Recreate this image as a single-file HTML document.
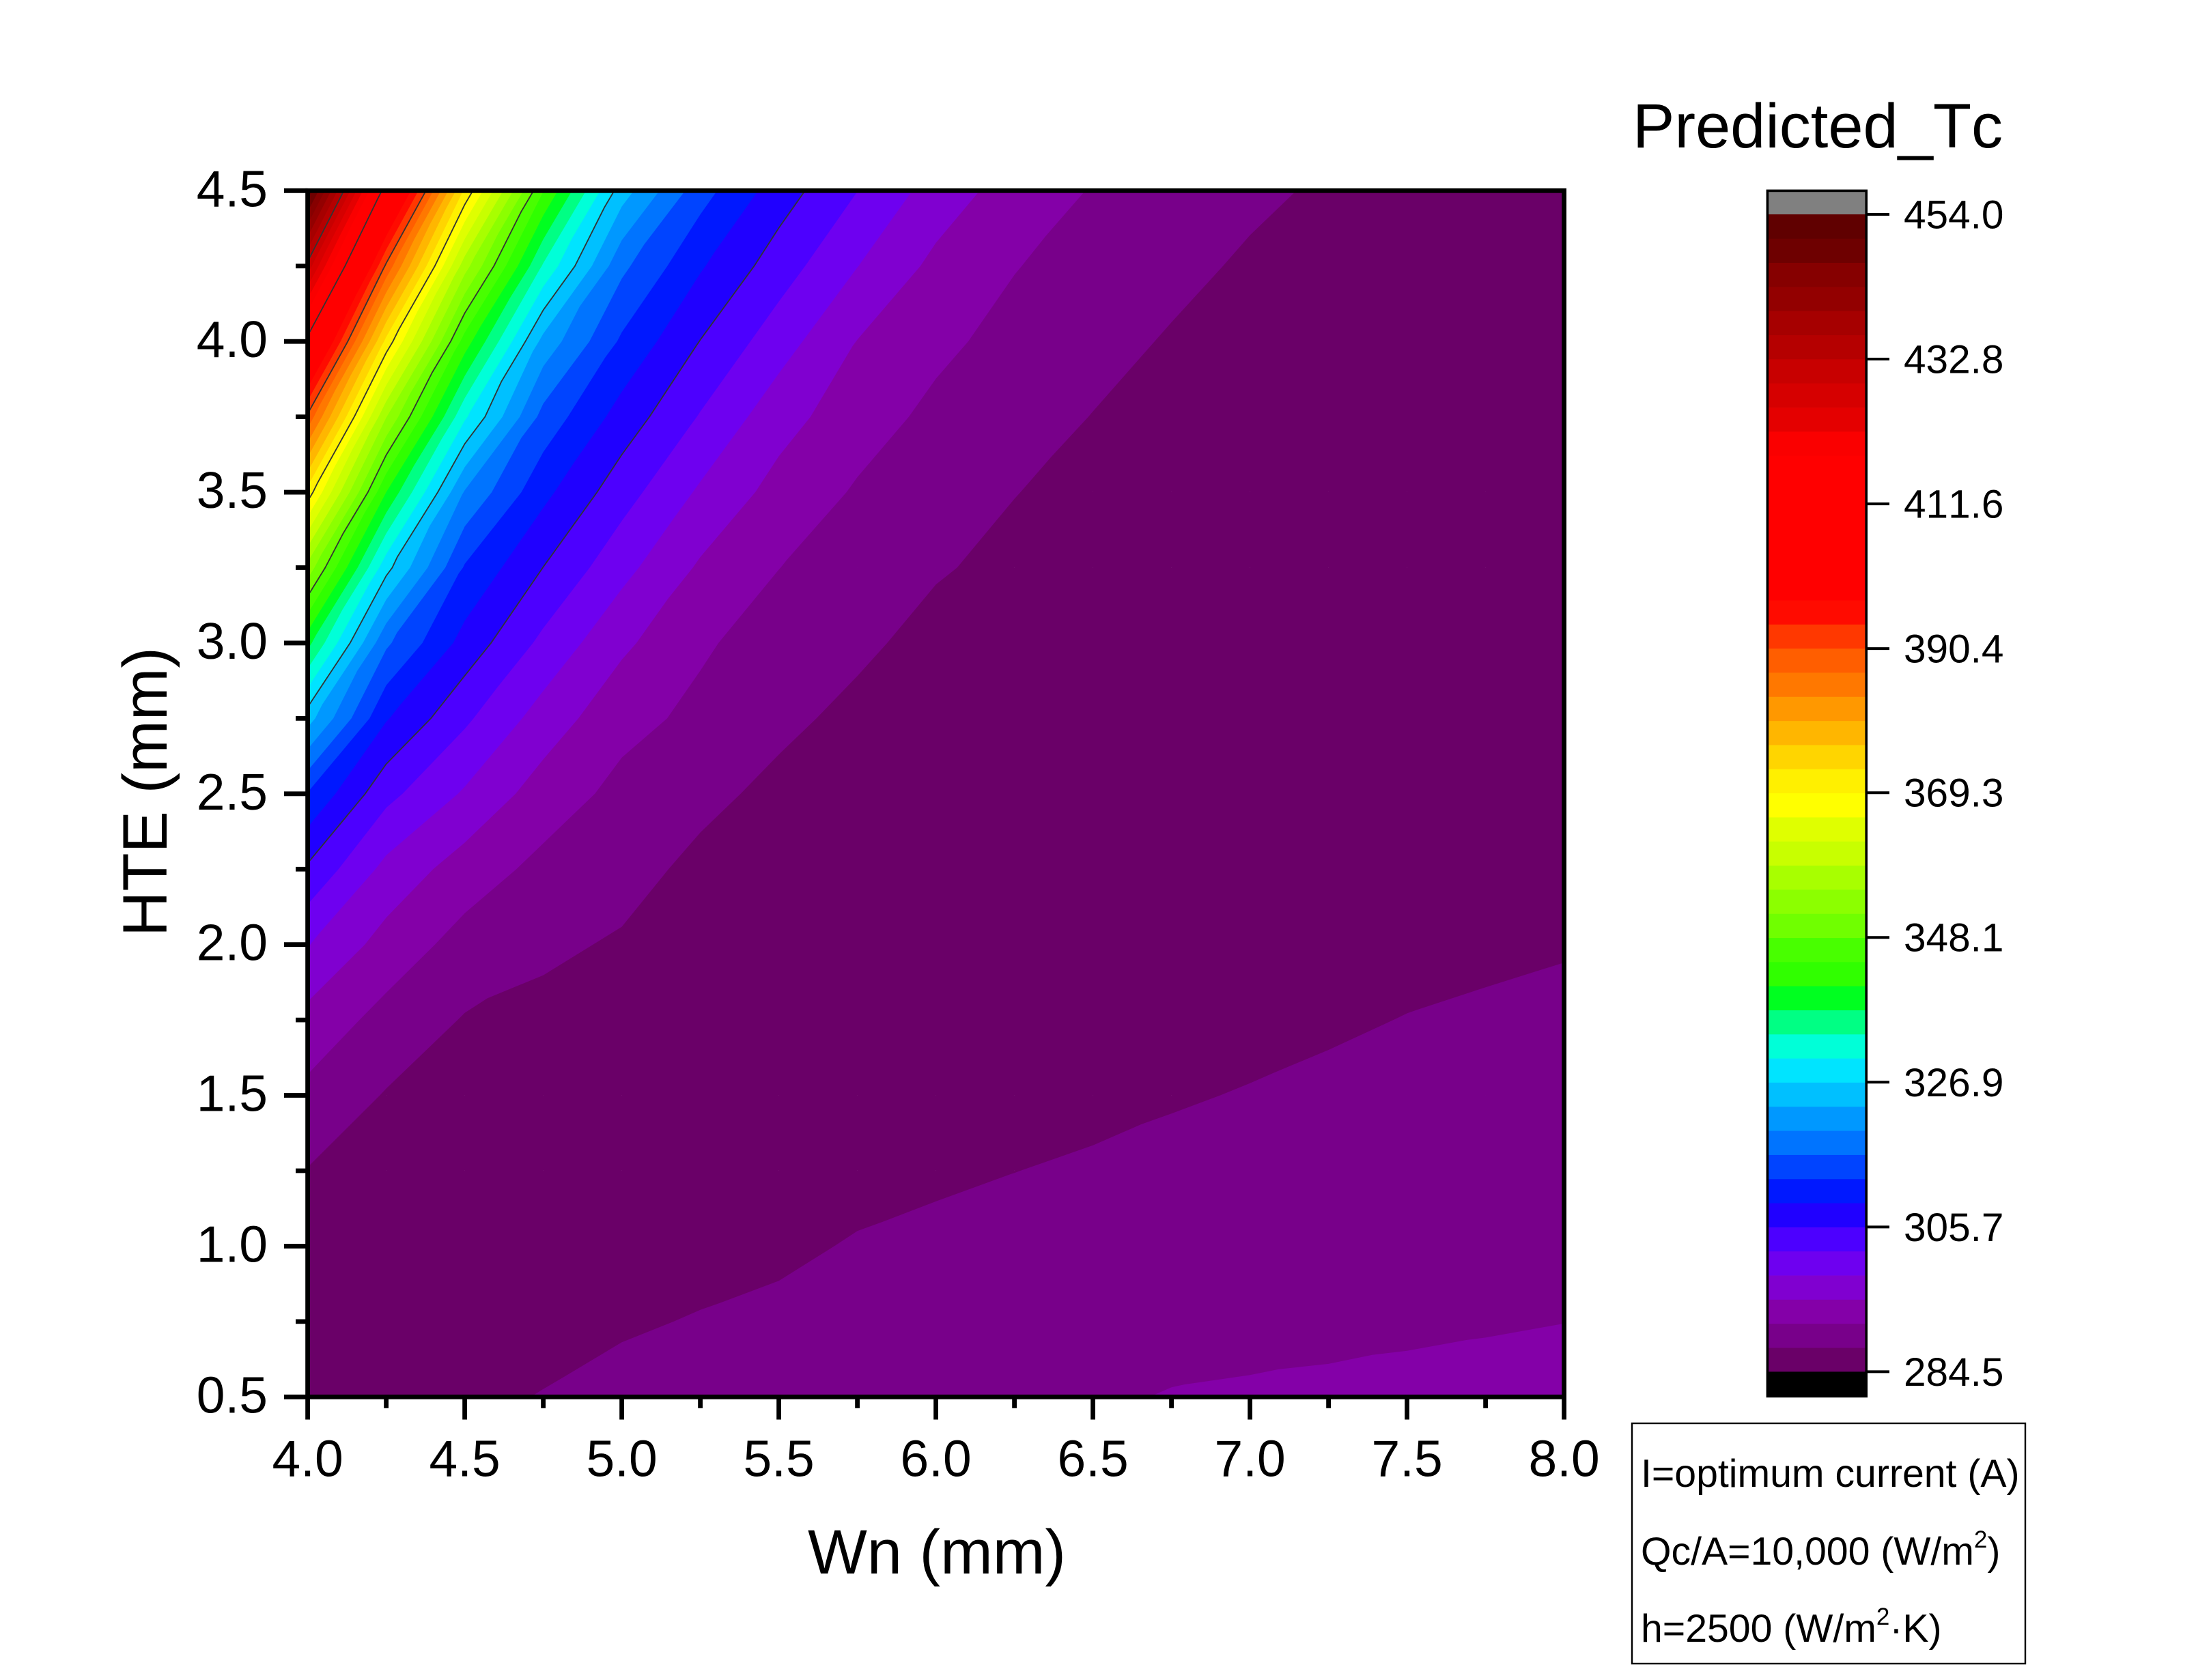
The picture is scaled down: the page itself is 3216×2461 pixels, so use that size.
<!DOCTYPE html>
<html lang="en">
<head>
<meta charset="utf-8">
<title>Predicted_Tc contour chart</title>
<style>
html,body{margin:0;padding:0;background:#fff;}
svg{display:block;}
text{font-family:"Liberation Sans",Arial,sans-serif;fill:#000;font-kerning:none;}
</style>
</head>
<body>
<svg id="chart" xmlns="http://www.w3.org/2000/svg" width="3216" height="2461" viewBox="0 0 3216 2461">
  <defs>
    <clipPath id="plot-clip"><rect x="450.6" y="279.3" width="1840" height="1767"/></clipPath>
  </defs>
  <rect x="0" y="0" width="3216" height="2461" fill="#fff"/>
  <g id="bands" clip-path="url(#plot-clip)"></g>
  <g id="lines" clip-path="url(#plot-clip)"></g>
  <g id="axes"></g>
  <text x="1372" y="2305" font-size="92" text-anchor="middle">Wn (mm)</text>
  <text transform="translate(244,1160) rotate(-90)" font-size="92" text-anchor="middle">HTE (mm)</text>
  <text x="2391" y="216" font-size="92">Predicted_Tc</text>
  <g id="colorbar"></g>
  <g>
    <rect x="2390" y="2085" width="576" height="352" fill="none" stroke="#000" stroke-width="2.4"/>
    <text x="2403" y="2178" font-size="57.2">I=optimum current (A)</text>
    <text x="2403" y="2292" font-size="57.2">Qc/A=10,000 (W/m<tspan font-size="35" dy="-25">2</tspan><tspan dy="25">)</tspan></text>
    <text x="2403" y="2405" font-size="57.2">h=2500 (W/m<tspan font-size="35" dy="-25">2</tspan><tspan dy="25">·K)</tspan></text>
  </g>
</svg>
<script>
// ---- chart data ----
const wnValues = [4,4.25,4.5,4.75,5,5.25,5.5,5.75,6,6.25,6.5,6.75,7,7.25,7.5,7.75,8];
const hteValues = [4.5,4.25,4,3.75,3.5,3.25,3,2.75,2.5,2.25,2,1.75,1.5,1.25,1,0.75,0.5];
// predicted Tc: one row per HTE value, one column per Wn value
const tcGrid = [
[453,409.2,372.1,344.66,325,314.2,307.44,302.2,297.1,293.5,291.35,289.9,288.65,287.6,287,286.7,286.5],
[431.5,389.7,356.65,333.5,317.1,309.6,303.9,298.7,294.2,291.7,290.2,288.85,287.6,287.1,286.7,286.5,286.4],
[410,371.7,342.9,322.16,312.15,305.6,300.2,295,292.3,290.5,289.05,287.75,287.1,286.7,286.4,286.3,286.2],
[389.6,355.3,331,315.03,307.75,301.9,296.5,293,290.8,289.3,287.95,287.2,286.7,286.4,286.2,286.1,286],
[371.3,341,319.5,310.15,303.64,298.1,293.8,291.2,289.55,288.1,287.2,286.7,286.3,286.1,286,285.9,285.9],
[353.8,328.1,312.4,305.65,299.75,294.6,291.6,289.9,288.3,287.3,286.7,286.3,286,285.9,285.8,285.8,285.8],
[338.6,316.9,307.9,301.3,295.8,292,290.1,288.6,287.1,286.7,286.2,286,285.8,285.7,285.7,285.8,285.9],
[324.8,309.5,302.8,297.1,292.6,290.8,288.7,287.3,286.7,286.2,285.9,285.7,285.6,285.6,285.7,285.9,286.1],
[312.5,303.2,298.2,293.4,290.6,288.8,287.3,286.6,286.1,285.8,285.6,285.5,285.5,285.6,285.9,286.2,286.5],
[305.1,297.6,293.4,290.6,289.1,287.3,286.6,286,285.7,285.5,285.4,285.5,285.6,285.8,286.4,286.8,287.1],
[298.8,293.7,290.25,288.6,287.7,286.6,286,285.6,285.5,285.4,285.4,285.6,286,286.6,287.3,287.6,287.85],
[293.9,290.35,287.8,287.2,286.9,286,285.6,285.4,285.4,285.5,285.8,286.7,287.3,287.7,288.1,288.36,288.6],
[290.65,287.8,286.8,286.4,286.2,285.7,285.6,286,286.4,286.9,287.3,287.8,288.17,288.53,288.88,289.1,289.33],
[287.9,286.8,286.2,286,285.9,286.2,286.4,287.15,287.57,288,288.4,288.75,289.06,289.37,289.67,289.87,290.07],
[286.6,286.2,286.1,286.3,286.7,287.1,287.5,288.25,288.7,289,289.4,289.7,289.95,290.2,290.46,290.63,290.8],
[286.2,286.2,286.6,287,287.7,288.2,288.65,289.3,289.7,290,290.4,290.6,290.85,291.06,291.25,291.4,291.54],
[286.3,286.6,287.4,288.15,288.9,289.3,289.6,290,290.4,290.8,291.2,291.7,291.85,291.95,292.05,292.15,292.3]
];
// contour level boundaries, low to high
const contourLevels = [284.5,288.03,291.56,295.09,298.63,302.16,305.69,309.22,312.75,316.28,319.81,323.34,326.88,330.41,333.94,337.47,341,344.53,348.06,351.59,355.13,358.66,362.19,365.72,369.25,372.78,376.31,379.84,383.38,386.91,390.44,393.97,397.5,401.03,404.56,408.09,411.63,415.16,418.69,422.22,425.75,429.28,432.81,436.34,439.88,443.41,446.94,450.47,454];
// fill colour of each band, low to high
const bandColors = ["#6a0068","#78008a","#8400a8","#8000d0","#6e00f0","#4c00ff","#2000ff","#0018ff","#0044ff","#0074ff","#0098ff","#00c0ff","#00e4ff","#00ffd8","#00ff84","#00ff20","#30ff00","#48ff00","#70ff00","#8cff00","#a8ff00","#c8ff00","#dfff00","#ffff00","#fff000","#ffd500","#ffb600","#ff9800","#ff7800","#ff5e00","#ff3800","#ff0b00","#ff0000","#ff0000","#ff0000","#ff0000","#ff0000","#ff0000","#fa0000","#e40000","#d60000","#c80000","#b50000","#a60000","#930000","#860000","#6e0000","#600000"];
const contourLineLevels = [305.69,326.88,348.06,369.25,390.44,411.63,432.81];
const xMajorTicks = [4,4.5,5,5.5,6,6.5,7,7.5,8];
const xMinorTicks = [4.25,4.75,5.25,5.75,6.25,6.75,7.25,7.75];
const yMajorTicks = [0.5,1,1.5,2,2.5,3,3.5,4,4.5];
const yMinorTicks = [0.75,1.25,1.75,2.25,2.75,3.25,3.75,4.25];
const colorbarTicks = [284.5,305.7,326.9,348.1,369.3,390.4,411.6,432.8,454];

// ---- axis functions ----
const NS = 'http://www.w3.org/2000/svg';
function xScale(v){ return 450.6 + (v - 4) * 460; }
function yScale(v){ return 2046.3 - (v - 0.5) * 441.75; }
function cbScale(v){ return 2009.4 - (v - 284.5) * (1695.4 / 169.5); }
function make(tag, attrs, parent){
  const el = document.createElementNS(NS, tag);
  for (const k in attrs) el.setAttribute(k, attrs[k]);
  parent.appendChild(el);
  return el;
}

// ---- triangles from the grid (split along the rising diagonal) ----
function buildTriangles(){
  const tris = [];
  for (let r = 0; r < hteValues.length - 1; r++){
    for (let c = 0; c < wnValues.length - 1; c++){
      const tl = [wnValues[c], hteValues[r], tcGrid[r][c]];
      const tr = [wnValues[c+1], hteValues[r], tcGrid[r][c+1]];
      const bl = [wnValues[c], hteValues[r+1], tcGrid[r+1][c]];
      const br = [wnValues[c+1], hteValues[r+1], tcGrid[r+1][c+1]];
      tris.push([tl, tr, bl]);
      tris.push([br, tr, bl]);
    }
  }
  return tris;
}
function crossing(a, b, v){
  const t = (v - a[2]) / (b[2] - a[2]);
  return [a[0] + t * (b[0] - a[0]), a[1] + t * (b[1] - a[1]), v];
}
function clipAbove(tri, v){
  const out = [];
  for (let i = 0; i < tri.length; i++){
    const a = tri[i], b = tri[(i + 1) % tri.length];
    const aIn = a[2] >= v, bIn = b[2] >= v;
    if (aIn) out.push(a);
    if (aIn !== bIn) out.push(crossing(a, b, v));
  }
  return out;
}
function pt(p){ return xScale(p[0]).toFixed(1) + ' ' + yScale(p[1]).toFixed(1); }

const triangles = buildTriangles();
const bandsGroup = document.getElementById('bands');
const linesGroup = document.getElementById('lines');

bandColors.forEach(function(color, i){
  const level = contourLevels[i];
  let d = '';
  triangles.forEach(function(t){
    const poly = clipAbove(t, i === 0 ? -Infinity : level);
    if (poly.length >= 3) d += 'M' + poly.map(pt).join('L') + 'Z';
  });
  if (!d) return;
  const path = make('path', {d: d, fill: color}, bandsGroup);
  
  
});

contourLineLevels.forEach(function(level){
  let d = '';
  triangles.forEach(function(t){
    const hits = [];
    for (let i = 0; i < 3; i++){
      const a = t[i], b = t[(i + 1) % 3];
      if ((a[2] >= level) !== (b[2] >= level)) hits.push(crossing(a, b, level));
    }
    if (hits.length === 2) d += 'M' + pt(hits[0]) + 'L' + pt(hits[1]);
  });
  const line = make('path', {d: d, fill: 'none', stroke: '#333', 'stroke-width': 1.8, 'stroke-linecap': 'round'}, linesGroup);
  
  
});

// ---- axes ----
const axes = document.getElementById('axes');
const frame = make('rect', {x: 450.6, y: 279.3, width: 1840, height: 1767, fill: 'none', stroke: '#000', 'stroke-width': 6.8}, axes);



xMajorTicks.forEach(function(v){
  const x = xScale(v);
  const tick = make('line', {x1: x, x2: x, y1: 2046.3, y2: 2079.5, stroke: '#000', 'stroke-width': 6.8}, axes);
  
  
  const label = make('text', {x: x, y: 2162.7, 'font-size': 75, 'text-anchor': 'middle'}, axes);
  label.textContent = v.toFixed(1);
  
  
});
xMinorTicks.forEach(function(v){
  const x = xScale(v);
  const tick = make('line', {x1: x, x2: x, y1: 2046.3, y2: 2062.8, stroke: '#000', 'stroke-width': 6.8}, axes);
  
  
});
yMajorTicks.forEach(function(v){
  const y = yScale(v);
  const tick = make('line', {x1: 416, x2: 450.6, y1: y, y2: y, stroke: '#000', 'stroke-width': 6.8}, axes);
  
  
  const label = make('text', {x: 392, y: y + 23, 'font-size': 75, 'text-anchor': 'end'}, axes);
  label.textContent = v.toFixed(1);
  
  
});
yMinorTicks.forEach(function(v){
  const y = yScale(v);
  const tick = make('line', {x1: 433, x2: 450.6, y1: y, y2: y, stroke: '#000', 'stroke-width': 6.8}, axes);
  
  
});

// ---- colour bar ----
const cb = document.getElementById('colorbar');
const cbTop = cbScale(contourLevels[contourLevels.length - 1]);
const cbBottom = cbScale(contourLevels[0]);
const overBand = make('rect', {x: 2588, y: 279, width: 145, height: cbTop - 279, fill: '#808080'}, cb);


bandColors.forEach(function(color, i){
  const yTop = cbScale(contourLevels[i + 1]);
  const yBot = cbScale(contourLevels[i]);
  const swatch = make('rect', {x: 2588, y: yTop, width: 145, height: yBot - yTop + 0.4, fill: color}, cb);
  
  
});
const underBand = make('rect', {x: 2588, y: cbBottom, width: 145, height: 2047 - cbBottom, fill: '#000'}, cb);


const cbFrame = make('rect', {x: 2588.4, y: 279.4, width: 144.8, height: 1766, fill: 'none', stroke: '#000', 'stroke-width': 3.6}, cb);


colorbarTicks.forEach(function(v){
  const y = cbScale(v);
  const tick = make('line', {x1: 2733, x2: 2767, y1: y, y2: y, stroke: '#000', 'stroke-width': 4}, cb);
  
  
  const label = make('text', {x: 2788, y: y + 20.5, 'font-size': 58.5}, cb);
  label.textContent = v.toFixed(1);
  
  
});
</script>
</body>
</html>
